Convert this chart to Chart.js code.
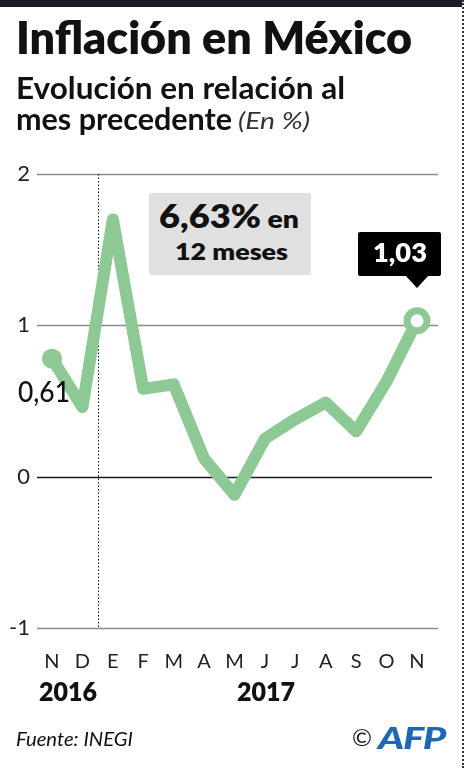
<!DOCTYPE html>
<html><head><meta charset="utf-8">
<script src="https://cdn.jsdelivr.net/npm/chart.js@4"></script>
<style>
html,body{margin:0;padding:0;background:#fff;}
body{width:465px;height:768px;position:relative;overflow:hidden;font-family:Lato,"Noto Sans",sans-serif;color:#111;}
#topbar{position:absolute;left:0;top:0;width:462px;height:7px;background:#1c1c22;}
#rborder{position:absolute;left:462px;top:0;width:0;height:768px;border-left:2px dotted #333;}
.t{position:absolute;white-space:nowrap;line-height:1;transform-origin:0 0;}
#cwrap{position:absolute;left:0;top:0;width:465px;height:768px;}
#box{position:absolute;background:#e0e0e0;border-radius:3px;}
#tip{position:absolute;background:#000;border-radius:2px;}
#tipArrow{position:absolute;width:0;height:0;border-left:12px solid transparent;border-right:12px solid transparent;border-top:13px solid #000;}
</style></head>
<body>
<div id="cwrap"><canvas id="c" width="465" height="768"></canvas></div>
<div id="topbar"></div>
<div id="rborder"></div>
<div class="t" id="title" data-w="396" style="left:16px;top:14px;font-size:46px;font-weight:800;color:#111;">Inflación en México</div>
<div class="t" id="sub1" data-w="329" style="left:16px;top:72px;font-size:31px;font-weight:700;">Evolución en relación al</div>
<div class="t" id="sub2a" data-w="216" style="left:16px;top:103px;font-size:31px;font-weight:700;">mes precedente</div>
<div class="t" id="sub2b" data-w="72" style="left:238px;top:108px;font-size:24px;font-style:italic;font-weight:400;color:#333;">(En %)</div>
<div id="box" style="left:149px;top:193px;width:162px;height:82px;"></div>
<div class="t" id="box1" data-w="140" style="left:159px;top:200px;font-weight:800;color:#111;"><span style="font-size:32px;">6,63%</span><span style="font-size:25px;"> en</span></div>
<div class="t" id="box2" data-w="113" style="left:175px;top:240px;font-size:23px;font-weight:800;color:#111;">12 meses</div>
<div id="tip"></div><div id="tipArrow"></div>
<div class="t" id="tipText" data-w="54" style="font-size:27px;font-weight:800;color:#fff;">1,03</div>
<div class="t" id="lbl061" data-w="52" style="left:18px;top:377px;font-size:28px;font-weight:500;color:#111;">0,61</div>
<div class="t" id="y2016" data-w="58" style="left:39px;top:678px;font-size:26px;font-weight:800;">2016</div>
<div class="t" id="y2017" data-w="58" style="left:237px;top:678px;font-size:26px;font-weight:800;">2017</div>
<div class="t" id="src" data-w="117" style="left:16px;top:729px;font-size:19.5px;font-style:italic;color:#111;">Fuente: INEGI</div>
<div class="t" id="copy" style="left:352px;top:725px;font-size:24px;color:#222;">©</div>
<div class="t" id="afp" data-w="67" style="left:378px;top:722px;font-size:30px;font-weight:900;font-style:italic;color:#2067b3;letter-spacing:-1px;">AFP</div>
<script>
// ---- data ----
const categories = ['N','D','E','F','M','A','M','J','J','A','S','O','N'];
const inflation = [0.78, 0.46, 1.70, 0.58, 0.61, 0.12, -0.12, 0.25, 0.38, 0.49, 0.30, 0.63, 1.03];
const yTicks = [2, 1, 0, -1];
const yearDividerIndex = 1.5;

const green = '#8dc995';
const n = inflation.length;
const pr = inflation.map((v,i)=> i===0 ? 10 : (i===n-1 ? 10 : 0));
const pbg = inflation.map((v,i)=> i===n-1 ? '#ffffff' : green);
const pbw = inflation.map((v,i)=> i===n-1 ? 7 : 0);

const gridPlugin = {
  id:'grid',
  beforeDatasetsDraw(chart){
    const {ctx, chartArea:a, scales:{x,y}} = chart;
    ctx.save();
    yTicks.forEach(t=>{
      const py = Math.round(y.getPixelForValue(t)) + 0.5;
      ctx.beginPath();
      ctx.lineWidth = 1.5;
      ctx.strokeStyle = t===0 ? '#1a1a1a' : '#8a8a8a';
      ctx.moveTo(a.left-15, py);
      ctx.lineTo(t===0 ? a.right+15 : a.right+21, py);
      ctx.stroke();
    });
    const px = Math.round(x.getPixelForValue(yearDividerIndex)) + 0.5;
    ctx.beginPath();
    ctx.setLineDash([1.5,2]);
    ctx.lineWidth = 1;
    ctx.strokeStyle = '#111';
    ctx.moveTo(px, y.getPixelForValue(2));
    ctx.lineTo(px, y.getPixelForValue(-1));
    ctx.stroke();
    ctx.restore();
  },
  afterRender(chart){
    const {x,y} = chart.scales;
    const lx = x.getPixelForValue(n-1), ly = y.getPixelForValue(inflation[n-1]);
    const tip = document.getElementById('tip');
    const bw=83, bh=44;
    const bx = lx - 59, by = ly - 89;
    Object.assign(tip.style,{left:bx+'px',top:by+'px',width:bw+'px',height:bh+'px'});
    const ar = document.getElementById('tipArrow');
    Object.assign(ar.style,{left:(lx-12)+'px',top:(by+bh-1)+'px'});
    const tt = document.getElementById('tipText');
    Object.assign(tt.style,{left:(bx+15)+'px',top:(by+6)+'px'});
  }
};

new Chart(document.getElementById('c'), {
  type:'line',
  data:{labels:categories, datasets:[{
    data:inflation, borderColor:green, borderWidth:12, tension:0,
    borderJoinStyle:'round', borderCapStyle:'round',
    pointRadius:pr, pointHoverRadius:pr, pointBackgroundColor:pbg,
    pointBorderColor:green, pointBorderWidth:pbw, pointHoverBorderWidth:pbw, clip:false
  }]},
  options:{
    responsive:false, animation:false, devicePixelRatio:1,
    layout:{padding:{top:174,left:0,right:48,bottom:0}},
    plugins:{legend:{display:false}, tooltip:{enabled:false}},
    events:[],
    scales:{
      x:{grid:{display:false,drawTicks:false}, border:{display:false},
         ticks:{color:'#222', font:{family:'Lato', size:20}, padding:22, maxRotation:0, autoSkip:false},
         afterFit(s){ s.height = 140; }},
      y:{min:-1, max:2, grid:{display:false,drawTicks:false}, border:{display:false},
         ticks:{stepSize:1, color:'#222', font:{family:'Lato', size:22}, padding:22, callback:v=>String(v)},
         afterFit(s){ s.width = 52; }}
    }
  },
  plugins:[gridPlugin]
});

// width fit for text
document.querySelectorAll('[data-w]').forEach(el=>{
  const w = el.getBoundingClientRect().width;
  const target = +el.dataset.w;
  if (w>0) { el.style.transform = 'scaleX(' + (target/w).toFixed(3) + ')'; }
});
</script>
</body></html>
